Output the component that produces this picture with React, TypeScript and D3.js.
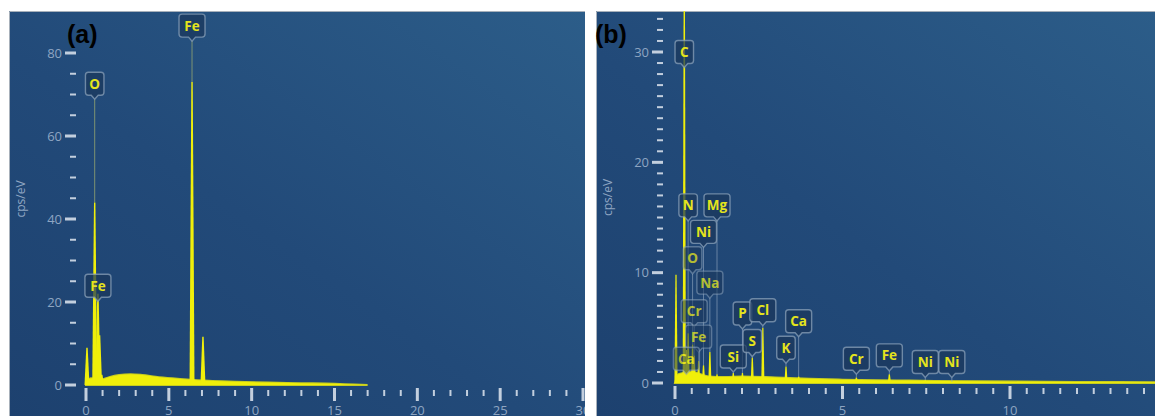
import React from 'react';
import * as d3 from 'd3';

// ---- panel (a) data: energy (keV) / counts (cps/eV)
const A_BACKGROUND: [number, number][] = [
  [0, 0.4], [0.3, 1.6], [0.9, 1.3], [1.4, 1.9], [2.0, 2.4], [2.7, 2.6], [3.4, 2.4],
  [4.2, 2.0], [5.2, 1.6], [6.1, 1.3], [7.4, 1.0], [9, 0.8], [11, 0.6], [13, 0.45],
  [15, 0.3], [16.2, 0.1], [17, 0],
];
const A_PEAKS = [
  { e: 0.06, h: 9 }, { e: 0.525, h: 44 }, { e: 0.72, h: 22 }, { e: 0.82, h: 12 },
  { e: 0.95, h: 2.5 }, { e: 6.4, h: 73 }, { e: 7.06, h: 11.6 },
];
const A_TAGS = [
  { el: 'Fe', e: 6.4, y: 86.6 },
  { el: 'O', e: 0.525, y: 72.6 },
  { el: 'Fe', e: 0.72, y: 23.9 },
];
const A_XLABELS = [0, 5, 10, 15, 20, 25, 30];
const A_YLABELS = [0, 20, 40, 60, 80];

// ---- panel (b) data
const B_BACKGROUND: [number, number][] = [
  [0, 0], [0.1, 0.8], [0.5, 1.0], [1, 0.6], [1.5, 0.55], [2, 0.6], [3, 0.5], [4, 0.38],
  [5, 0.3], [7, 0.22], [9, 0.15], [12, 0.1], [14.5, 0.06],
];
const B_PEAKS = [
  { e: 0.03, h: 9.8 }, { e: 0.277, h: 38 }, { e: 0.34, h: 3.0 }, { e: 0.392, h: 4.5 },
  { e: 0.525, h: 3.5 }, { e: 0.573, h: 2.5 }, { e: 0.705, h: 2.0 }, { e: 0.851, h: 1.6 },
  { e: 1.041, h: 2.8 }, { e: 1.254, h: 0.8 }, { e: 1.74, h: 0.9 }, { e: 2.013, h: 0.9 },
  { e: 2.307, h: 2.3 }, { e: 2.622, h: 5.0 }, { e: 3.313, h: 1.5 }, { e: 3.691, h: 0.6 },
  { e: 5.414, h: 0.5 }, { e: 6.398, h: 0.8 }, { e: 7.471, h: 0.25 }, { e: 8.264, h: 0.1 },
];
const B_TAGS = [
  { el: 'C', e: 0.277, y: 30 },
  { el: 'N', e: 0.392, y: 16.1 },
  { el: 'Mg', e: 1.254, y: 16.1 },
  { el: 'Ni', e: 0.851, y: 13.7 },
  { el: 'O', e: 0.525, y: 11.3, faint: true },
  { el: 'Na', e: 1.041, y: 9.1, faint: true },
  { el: 'Cr', e: 0.573, y: 6.5, faint: true },
  { el: 'Fe', e: 0.705, y: 4.2, faint: true },
  { el: 'Ca', e: 0.34, y: 2.2, faint: true },
  { el: 'Si', e: 1.74, y: 2.4 },
  { el: 'P', e: 2.013, y: 6.3 },
  { el: 'Cl', e: 2.622, y: 6.6 },
  { el: 'S', e: 2.307, y: 3.8 },
  { el: 'K', e: 3.313, y: 3.2 },
  { el: 'Ca', e: 3.691, y: 5.6 },
  { el: 'Cr', e: 5.414, y: 2.2 },
  { el: 'Fe', e: 6.398, y: 2.5 },
  { el: 'Ni', e: 7.471, y: 1.9 },
  { el: 'Ni', e: 8.264, y: 1.9 },
];
const B_XLABELS = [0, 5, 10];
const B_YLABELS = [0, 10, 20, 30];

const YELLOW = '#f0ef0a';
const TICK = '#c3cfde';
const LABEL = '#8ea5c2';

type Peak = { e: number; h: number };
type Tag = { el: string; e: number; y: number; faint?: boolean };

type PanelProps = {
  id: string;
  letter: string;
  frame: [number, number, number, number];
  xDom: [number, number]; xRng: [number, number];
  yDom: [number, number]; yRng: [number, number];
  xLabels: number[]; xMinor: number; xMax: number;
  yLabels: number[]; yMinor: number; yMax: number;
  yTickX: number;
  background: [number, number][];
  peaks: Peak[];
  tags: Tag[];
  peakBase: number; peakTop: number;
  leader: string;
};

function Panel(p: PanelProps) {
  const [fx0, fy0, fx1, fy1] = p.frame;
  const x = d3.scaleLinear().domain(p.xDom).range(p.xRng);
  const y = d3.scaleLinear().domain(p.yDom).range(p.yRng);
  const area = d3.area<[number, number]>()
    .x(d => x(d[0])).y0(y(0)).y1(d => y(d[1]))
    .curve(d3.curveMonotoneX);
  const xTicks = d3.range(0, p.xMax + 1e-9, p.xMinor);
  const yTicks = d3.range(0, p.yMax + 1e-9, p.yMinor);
  const isMajorX = (v: number) => p.xLabels.some(l => Math.abs(l - v) < 1e-6);
  const isMajorY = (v: number) => p.yLabels.some(l => Math.abs(l - v) < 1e-6);
  const peakAt = (e: number) => {
    const pk = p.peaks.reduce((m, d) => (Math.abs(d.e - e) < Math.abs(m.e - e) ? d : m));
    return pk.h;
  };

  return (
    <g>
      <defs>
        <linearGradient id={`bg-${p.id}`} x1="1" y1="0" x2="0" y2="1">
          <stop offset="0" stopColor="#2c5d89" />
          <stop offset="0.55" stopColor="#224a79" />
          <stop offset="1" stopColor="#1d416f" />
        </linearGradient>
        <clipPath id={`clip-${p.id}`}>
          <rect x={fx0} y={fy0} width={fx1 - fx0} height={fy1 - fy0} />
        </clipPath>
      </defs>
      <rect x={fx0} y={fy0} width={fx1 - fx0} height={fy1 - fy0} fill={`url(#bg-${p.id})`} />
      <path d={`M${fx0 + 0.5},${fy1}V${fy0 + 0.5}H${fx1}`} fill="none" stroke="#a7b0ba" strokeWidth={1} />
      <g clipPath={`url(#clip-${p.id})`}>
        {/* spectrum */}
        <path d={area(p.background) || ''} fill={YELLOW} stroke={YELLOW} strokeWidth={2} strokeOpacity={0.8} />
        {p.peaks.map((d, i) => {
          const cx = x(d.e);
          const b = y(0), t = y(d.h);
          return (
            <path key={i}
              d={`M${cx - p.peakBase},${b}L${cx - p.peakTop},${t}L${cx + p.peakTop},${t}L${cx + p.peakBase},${b}Z`}
              fill={YELLOW} />
          );
        })}
        {/* leader lines */}
        {p.tags.map((t, i) => {
          const cx = x(t.e);
          const tip = y(t.y) + 11.5 + 4;
          const top = y(peakAt(t.e));
          if (top <= tip) return null;
          return <line key={i} x1={cx} x2={cx} y1={tip} y2={top} stroke={p.leader} strokeWidth={1} />;
        })}
        {/* tags */}
        {p.tags.map((t, i) => {
          const cx = x(t.e), cy = y(t.y);
          const w = 11 + 7.5 * t.el.length, h = 23;
          const l = cx - w / 2, r = cx + w / 2, tp = cy - h / 2, bt = cy + h / 2;
          const rr = 3;
          const d = `M${l + rr},${tp}H${r - rr}Q${r},${tp} ${r},${tp + rr}V${bt - rr}Q${r},${bt} ${r - rr},${bt}` +
            `H${cx + 3.5}L${cx},${bt + 4}L${cx - 3.5},${bt}H${l + rr}Q${l},${bt} ${l},${bt - rr}V${tp + rr}Q${l},${tp} ${l + rr},${tp}Z`;
          return (
            <g key={i} opacity={t.faint ? 0.75 : 1}>
              <path d={d} fill="#1b375b" fillOpacity={0.72} stroke="#8aa0b8" strokeOpacity={0.75} strokeWidth={1.4} />
              <text x={cx} y={cy + 5} textAnchor="middle" fontFamily="Open Sans, sans-serif"
                fontWeight={700} fontSize={13.5} fill="#e4e41c">{t.el}</text>
            </g>
          );
        })}
        {/* x axis ticks */}
        {xTicks.map((v, i) => {
          const major = isMajorX(v);
          return (
            <rect key={i} x={x(v) - (major ? 1.5 : 1)} y={major ? p.yRng[0] + 3 : p.yRng[0] + 5}
              width={major ? 3 : 2} height={major ? 13 : 6} fill={TICK} />
          );
        })}
        {p.xLabels.map(v => (
          <text key={v} x={x(v)} y={415} textAnchor="middle" fontFamily="Open Sans, sans-serif"
            fontSize={13} fill={LABEL}>{v}</text>
        ))}
        {/* y axis ticks */}
        {yTicks.map((v, i) => {
          const major = isMajorY(v);
          return (
            <rect key={i} x={major ? p.yTickX : p.yTickX + 5} y={y(v) - (major ? 1.5 : 1)}
              width={major ? 11 : 6} height={major ? 3 : 2} fill={TICK} />
          );
        })}
        {p.yLabels.map(v => (
          <text key={v} x={p.yTickX - 3} y={y(v) + 4.5} textAnchor="end" fontFamily="Open Sans, sans-serif"
            fontSize={13} fill={LABEL}>{v}</text>
        ))}
        <text transform={`translate(${p.yTickX - 40},${(p.yRng[0] + p.yRng[1]) / 2 - 20}) rotate(-90)`}
          textAnchor="middle" fontFamily="Open Sans, sans-serif" fontSize={12} fill={LABEL}>cps/eV</text>
      </g>
      <text x={p.id === 'a' ? 67 : 595} y={43} fontFamily="Liberation Sans, Arial, sans-serif" fontWeight={700}
        fontSize={25} fill="#000">{p.letter}</text>
    </g>
  );
}

export default function App() {
  return (
    <svg width={1155} height={416} style={{ position: 'fixed', left: 0, top: 0, background: '#fff' }}>
      <Panel id="a" letter="(a)" frame={[9, 11, 585, 416]}
        xDom={[0, 30]} xRng={[86, 583]} yDom={[0, 80]} yRng={[385, 53]}
        xLabels={A_XLABELS} xMinor={1} xMax={30}
        yLabels={A_YLABELS} yMinor={5} yMax={80} yTickX={65}
        background={A_BACKGROUND} peaks={A_PEAKS} tags={A_TAGS}
        peakBase={2.5} peakTop={0.7} leader="rgba(185,195,110,0.6)" />
      <Panel id="b" letter="(b)" frame={[596, 11, 1155, 416]}
        xDom={[0, 10]} xRng={[675, 1010]} yDom={[0, 30]} yRng={[383, 52]}
        xLabels={B_XLABELS} xMinor={0.5} xMax={14.5}
        yLabels={B_YLABELS} yMinor={1} yMax={33} yTickX={652}
        background={B_BACKGROUND} peaks={B_PEAKS} tags={B_TAGS}
        peakBase={1.6} peakTop={0.6} leader="rgba(150,170,195,0.6)" />
    </svg>
  );
}
